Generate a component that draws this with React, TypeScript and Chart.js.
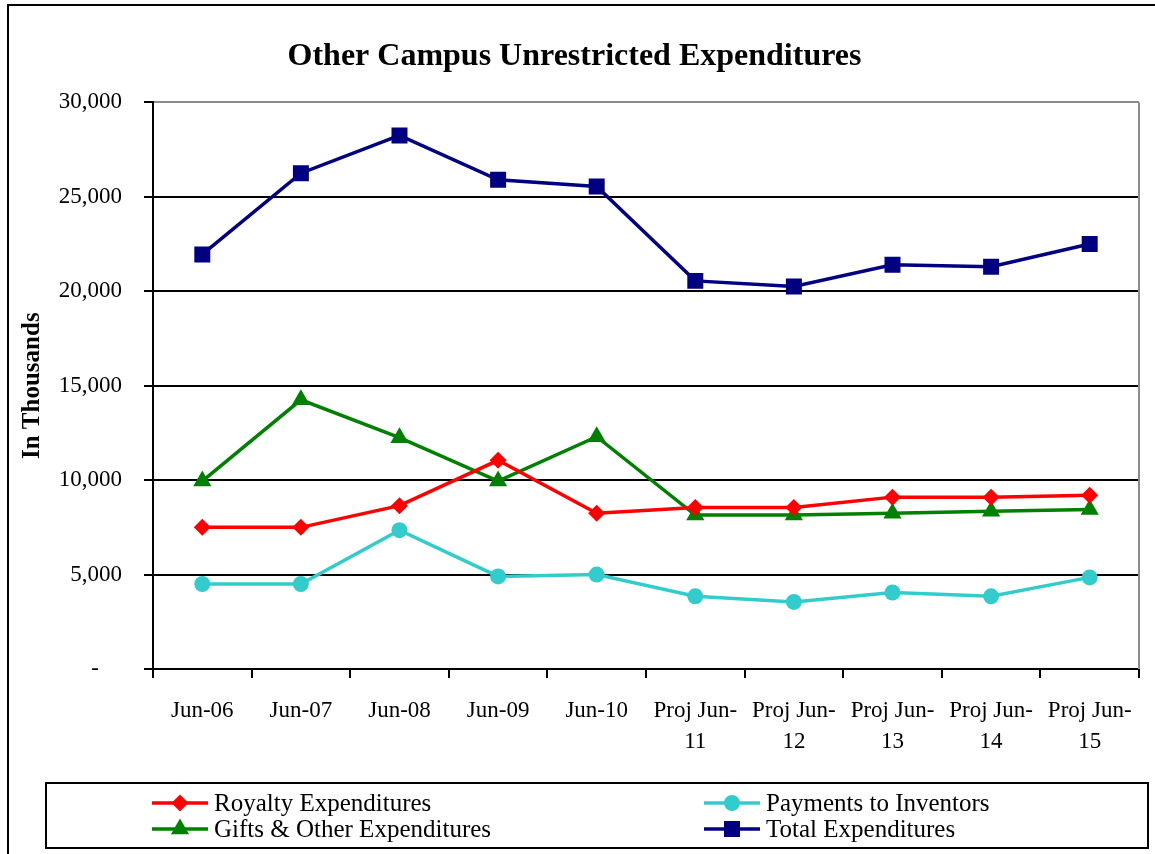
import React, { useEffect, useRef } from 'react';
import { Chart, registerables } from 'chart.js';
import { drawPoint } from 'chart.js/helpers';

Chart.register(...registerables);

const categories: (string | string[])[] = [
  'Jun-06', 'Jun-07', 'Jun-08', 'Jun-09', 'Jun-10',
  ['Proj Jun-', '11'], ['Proj Jun-', '12'], ['Proj Jun-', '13'], ['Proj Jun-', '14'], ['Proj Jun-', '15'],
];
const royalty = [7500, 7500, 8650, 11050, 8250, 8550, 8550, 9100, 9100, 9200];
const payments = [4500, 4500, 7350, 4900, 5000, 3850, 3550, 4050, 3850, 4850];
const gifts = [9950, 14250, 12250, 9950, 12300, 8150, 8150, 8250, 8350, 8450];
const total = [21950, 26250, 28250, 25900, 25550, 20550, 20250, 21400, 21300, 22500];

const titleText = 'Other Campus Unrestricted Expenditures';
const yTitle = 'In Thousands';
const FONT = '"Liberation Serif", "Times New Roman", serif';

const framePlugin = {
  id: 'frame',
  afterDraw(chart: any) {
    const ctx = chart.ctx as CanvasRenderingContext2D;
    const { top, bottom, right } = chart.chartArea;
    ctx.save();
    ctx.strokeStyle = '#8c8c8c';
    ctx.lineWidth = 2;
    ctx.beginPath();
    ctx.moveTo(right, top);
    ctx.lineTo(right, bottom);
    ctx.stroke();

    ctx.strokeStyle = '#000';
    ctx.lineWidth = 2;
    ctx.strokeRect(8, 5, 1400, 1000);
    ctx.strokeRect(46, 783, 1102, 65);

    chart.data.datasets.forEach((ds: any, i: number) => {
      const col = i % 2;
      const row = Math.floor(i / 2);
      const x0 = col ? 704 : 152;
      const y = row ? 829 : 803;
      ctx.strokeStyle = ds.borderColor;
      ctx.lineWidth = 3.5;
      ctx.beginPath();
      ctx.moveTo(x0, y);
      ctx.lineTo(x0 + 56, y);
      ctx.stroke();
      ctx.fillStyle = ds.backgroundColor;
      drawPoint(ctx, { pointStyle: ds.pointStyle, rotation: 0, radius: ds.pointRadius, borderWidth: 0 } as any, x0 + 28, y);
      ctx.fillStyle = '#000';
      ctx.font = `25px ${FONT}`;
      ctx.textBaseline = 'middle';
      ctx.textAlign = 'left';
      ctx.fillText(ds.label, x0 + 62, y + 1);
    });
    ctx.restore();
  },
};

export default function App() {
  const ref = useRef<HTMLCanvasElement | null>(null);
  useEffect(() => {
    if (!ref.current) return;
    Chart.defaults.color = '#000';
    Chart.defaults.font.family = FONT;
    const mk = (label: string, data: number[], color: string, style: string, r: number) => ({
      label,
      data,
      borderColor: color,
      backgroundColor: color,
      borderWidth: 3.5,
      pointStyle: style,
      pointRadius: r,
      pointHoverRadius: r,
      pointBorderWidth: 0,
      tension: 0,
    });
    const chart = new Chart(ref.current, {
      type: 'line',
      data: {
        labels: categories as any,
        datasets: [
          mk('Royalty Expenditures', royalty, '#ff0000', 'rectRot', 8.5),
          mk('Payments to Inventors', payments, '#33cccc', 'circle', 8),
          mk('Gifts & Other Expenditures', gifts, '#008000', 'triangle', 10.5),
          mk('Total Expenditures', total, '#000080', 'rect', 11.3),
        ] as any,
      },
      options: {
        responsive: false,
        animation: false,
        events: [],
        layout: { padding: { left: 10, top: 0, right: 16, bottom: 85 } },
        plugins: {
          legend: { display: false },
          tooltip: { enabled: false },
          title: {
            display: true,
            text: titleText,
            color: '#000',
            font: { size: 32, weight: 'bold', family: FONT, lineHeight: 1.2 },
            padding: { top: 38, bottom: 26 },
          },
        },
        scales: {
          x: {
            type: 'category',
            offset: true,
            afterFit: (s: any) => { s.height = 100; },
            grid: {
              display: true,
              offset: true,
              drawOnChartArea: false,
              drawTicks: true,
              tickLength: 9,
              color: '#000',
              lineWidth: 2,
            },
            border: { display: true, color: '#000', width: 2 },
            ticks: {
              color: '#000',
              autoSkip: false,
              maxRotation: 0,
              padding: 17,
              font: { size: 23, family: FONT, lineHeight: 1.35 },
            },
          },
          y: {
            min: 0,
            max: 30000,
            afterFit: (s: any) => { s.width = 143; },
            grid: {
              color: (c: any) => (c.tick && c.tick.value === 30000 ? '#8c8c8c' : '#000'),
              tickColor: '#000',
              lineWidth: 2,
              tickLength: 9,
            },
            border: { display: true, color: '#000', width: 2 },
            ticks: {
              stepSize: 5000,
              padding: 22,
              color: '#000',
              font: { size: 23, family: FONT },
              callback: (v: any) => (v === 0 ? '-\u2007\u2007' : Number(v).toLocaleString('en-US')),
            },
            title: {
              display: true,
              text: yTitle,
              color: '#000',
              font: { size: 25, weight: 'bold', family: FONT },
              padding: { top: 8, bottom: 0 },
            },
          },
        },
      },
      plugins: [framePlugin],
    });
    return () => chart.destroy();
  }, []);
  return (
    <div style={{ position: 'absolute', left: 0, top: 0, width: 1155, height: 854, background: '#fff' }}>
      <canvas ref={ref} width={1155} height={854} style={{ display: 'block' }} />
    </div>
  );
}
